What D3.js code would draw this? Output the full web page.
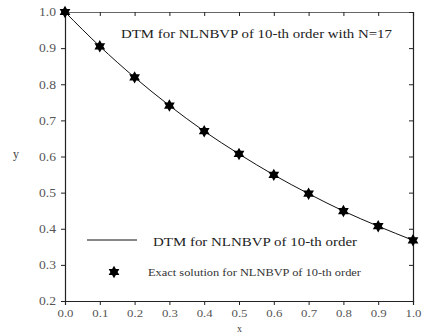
<!DOCTYPE html>
<html><head><meta charset="utf-8">
<script src="https://cdn.jsdelivr.net/npm/d3@7"></script>
<style>body{margin:0;background:#fff}svg{display:block}</style>
</head><body><svg id="c" width="422" height="333"></svg>
<script>
const xValues = [0.0,0.1,0.2,0.3,0.4,0.5,0.6,0.7,0.8,0.9,1.0];
const dtmValues = [1.0,0.905,0.819,0.741,0.670,0.607,0.549,0.497,0.449,0.407,0.368];
const exactValues = [1.0,0.905,0.819,0.741,0.670,0.607,0.549,0.497,0.449,0.407,0.368];
const xTicks = [0.0,0.1,0.2,0.3,0.4,0.5,0.6,0.7,0.8,0.9,1.0];
const yTicks = [0.2,0.3,0.4,0.5,0.6,0.7,0.8,0.9,1.0];
const titleText = "DTM for NLNBVP of 10-th order with N=17";
const legendLine = "DTM for NLNBVP of 10-th order";
const legendStar = "Exact solution for NLNBVP of 10-th order";

const FONT = "'Liberation Serif','Times New Roman','DejaVu Serif',serif";
const svg = d3.select("#c");
const L=65,R=413,T=12,B=301;
const x = d3.scaleLinear().domain([0,1]).range([L,R]);
const y = d3.scaleLinear().domain([0.2,1.0]).range([B,T]);
const fmt = d3.format(".1f");

const gx = svg.append("g").attr("transform",`translate(0,${B})`)
  .call(d3.axisBottom(x).tickValues(xTicks).tickFormat(fmt).tickSize(4).tickPadding(4));
const gy = svg.append("g").attr("transform",`translate(${L},0)`)
  .call(d3.axisLeft(y).tickValues(yTicks).tickFormat(fmt).tickSize(4).tickPadding(5));
const gt = svg.append("g").attr("transform",`translate(0,${T})`)
  .call(d3.axisBottom(x).tickValues(xTicks).tickFormat("").tickSize(4));
const gr = svg.append("g").attr("transform",`translate(${R},0)`)
  .call(d3.axisLeft(y).tickValues(yTicks).tickFormat("").tickSize(4));
[gx,gy,gt,gr].forEach(g=>{
  g.attr("font-family",null).style("font-family",FONT);
  g.select(".domain").attr("stroke","#222").attr("stroke-width",1.2);
  g.selectAll(".tick line").attr("stroke","#222");
  g.selectAll(".tick text").attr("fill","#555").style("font-family",FONT);
});
gx.selectAll(".tick text").attr("font-size",11).attr("textLength",16).attr("lengthAdjust","spacingAndGlyphs");
gy.selectAll(".tick text").attr("font-size",12).attr("textLength",17).attr("lengthAdjust","spacingAndGlyphs");
gt.select(".domain").attr("stroke","#666");

const line = d3.line().x((d,i)=>x(xValues[i])).y(d=>y(d)).curve(d3.curveMonotoneX);
svg.append("path").datum(dtmValues).attr("d",line).attr("fill","none").attr("stroke","#111").attr("stroke-width",1);

function hexagram(r){
  const p=[];
  for(let k=0;k<2;k++){
    const pts=[];
    for(let j=0;j<3;j++){
      const a=-Math.PI/2 + k*Math.PI + j*2*Math.PI/3;
      pts.push([r*Math.cos(a), r*Math.sin(a)]);
    }
    p.push("M"+pts.map(q=>q[0].toFixed(2)+","+q[1].toFixed(2)).join("L")+"Z");
  }
  return p.join("");
}
svg.append("g").selectAll("path").data(exactValues).join("path")
  .attr("d",hexagram(6.2))
  .attr("transform",(d,i)=>`translate(${x(xValues[i])},${y(d)})`)
  .attr("fill","#000");

function txt(xp,yp,s,size,fill,len){
  const t = svg.append("text").attr("x",xp).attr("y",yp).attr("font-size",size).attr("fill",fill)
    .style("font-family",FONT).text(s);
  if(len) t.attr("textLength",len).attr("lengthAdjust","spacingAndGlyphs");
  return t;
}
txt(121,38,titleText,12.5,"#222",271);
svg.append("line").attr("x1",87).attr("x2",137).attr("y1",240).attr("y2",240).attr("stroke","#111").attr("stroke-width",1);
txt(153,246,legendLine,13,"#222",204);
svg.append("path").attr("d",hexagram(6.2)).attr("transform","translate(114,272)").attr("fill","#000");
txt(148,276,legendStar,11,"#333",213);
txt(237,332,"x",10,"#444");
txt(13,158,"y",12,"#444");
</script></body></html>
